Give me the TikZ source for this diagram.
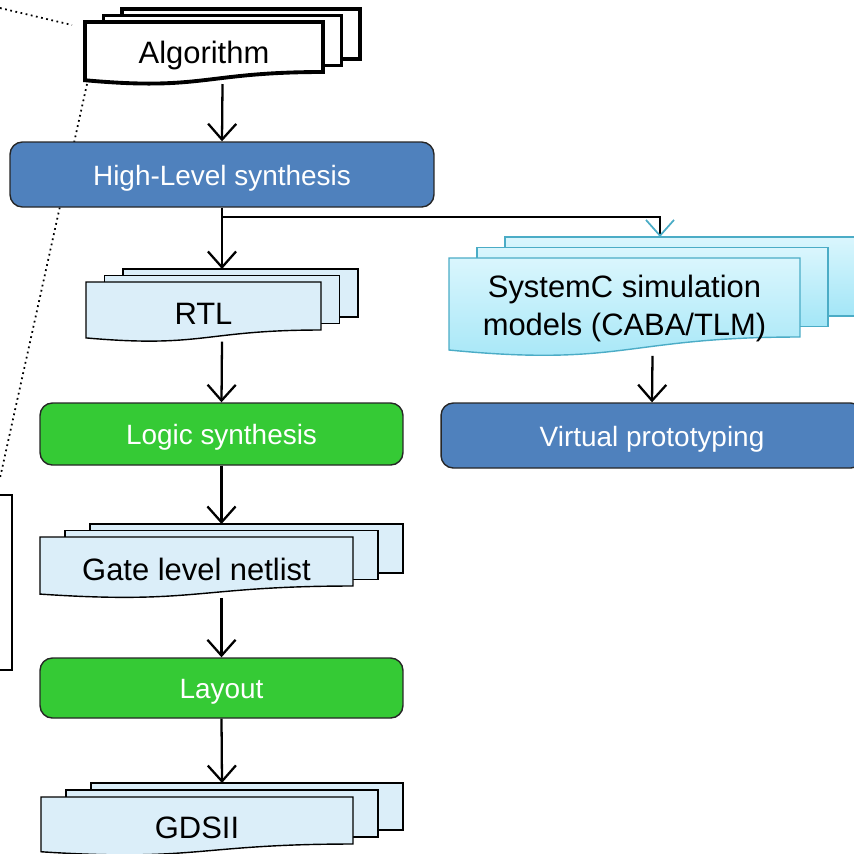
\documentclass[tikz,border=0pt]{standalone}
\usepackage{fontspec}
\setmainfont{Liberation Sans}
\usepackage{xcolor}
\usetikzlibrary{arrows.meta,calc}

\definecolor{hlsblue}{HTML}{4F81BD}
\definecolor{synthgreen}{HTML}{35CA35}
\definecolor{docblue}{HTML}{DBEEF9}
\definecolor{simcyan}{HTML}{4BACC6}
\definecolor{simtop}{HTML}{DAF6FD}
\definecolor{simbottom}{HTML}{A3E6F7}

% stack of three pages: style, name, x, y, width, height, dx, dy, text
\newcommand{\docstack}[9]{%
  \draw[#1] (#3+2*#7, #4-2*#8) rectangle ++(#5, #6);
  \draw[#1] (#3+#7, #4-#8) rectangle ++(#5, #6);
  \draw[#1] (#3, #4) -- ++(#5, 0) -- ++(0, #6)
    .. controls (#3+0.5*#5, #4+#6) and (#3+0.5*#5, #4+1.3815*#6) .. (#3, #4+1.1646*#6) -- cycle;
  \coordinate (#2-in) at (#3+0.5*#5+#7, #4-2*#8);
  \coordinate (#2-out) at (#3+0.5*#5+#7, #4+1.24*#6);
  \node[doctext] (#2) at (#3+0.5*#5, #4+0.6*#6+3) {#9};
}

\begin{document}
\begin{tikzpicture}[x=0.02cm, y=-0.02cm,
    stage/.style={rectangle, draw=black!85, line width=0.8pt, rounded corners=7pt, text=white, text height=16pt, text depth=3.5pt, font={\fontsize{15.9}{19}\selectfont}},
    doctext/.style={align=center, font={\fontsize{17.6}{21.5}\selectfont}},
    algodoc/.style={draw=black, line width=2.2pt, fill=white},
    filedoc/.style={draw=black, line width=0.8pt, fill=docblue},
    simdoc/.style={draw=simcyan, line width=0.8pt, top color=simtop, bottom color=simbottom},
    arrow/.style={-{Straight Barb[length=9pt,width=16pt]}, line width=1.3pt}
]
\useasboundingbox (0,0) rectangle (854,853);

% Zoom lines and inset
\node[draw, line width=0.8pt, fill=white, minimum width=0.44cm, minimum height=3.5cm] (inset) at (1,582.5) {};
\coordinate (z1a) at (0,8);
\coordinate (z1b) at (72,25);
\coordinate (z2a) at (87,84);
\coordinate (z2b) at (0,478);
\draw[dotted, line width=1pt] (z1a) -- (z1b);
\draw[dotted, line width=1pt] (z2a) -- (z2b);

% Documents
\docstack{algodoc}{algo}{85}{22}{238}{50}{18.5}{6.5}{Algorithm}
\docstack{filedoc}{rtl}{86}{282}{235}{48}{18.5}{6.5}{RTL}
\docstack{filedoc}{gate}{40}{537}{313}{49}{25}{6.5}{Gate level netlist}
\docstack{filedoc}{gds}{41}{797}{312}{47}{25}{7}{GDSII}
\docstack{simdoc}{sysc}{449}{258}{351}{79}{28}{10.5}{SystemC simulation\\models (CABA/TLM)}
\coordinate (sysc-top) at (660,237);

% Steps
\node[stage, fill=hlsblue, minimum width=8.48cm, minimum height=1.3cm] (hls) at (222,174.5) {High-Level synthesis};
\node[stage, fill=synthgreen, minimum width=7.26cm, minimum height=1.24cm] (logic) at (221.5,434) {Logic synthesis};
\node[stage, fill=synthgreen, minimum width=7.26cm, minimum height=1.2cm] (layout) at (221.5,688) {Layout};
\node[stage, fill=hlsblue, minimum width=8.44cm, minimum height=1.3cm] (virt) at (652,435.5) {Virtual prototyping};

% Flow
\draw[arrow] (algo-out) -- (hls.north);
\draw[arrow] (hls.south) -- (rtl-in);
\coordinate (split) at (222,217);
\draw[line width=1pt, -{Straight Barb[length=9pt,width=16pt,color=simcyan]}] (split) -| (sysc-top);
\draw[arrow] (rtl-out) -- (logic.north);
\draw[arrow] (logic.south) -- (gate-in);
\draw[arrow] (gate-out) -- (layout.north);
\draw[arrow] (layout.south) -- (gds-in);
\draw[arrow] (sysc-out) -- (virt.north);

\end{tikzpicture}
\end{document}
